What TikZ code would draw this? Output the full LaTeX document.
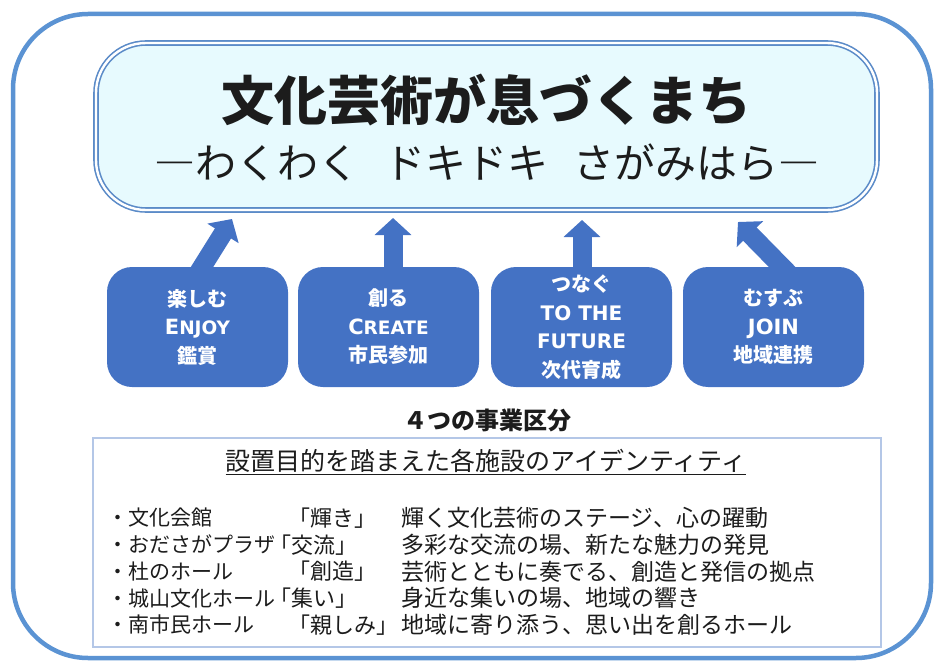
\documentclass[tikz,border=0pt]{standalone}
\usepackage{fontspec}
\setmainfont{Noto Sans CJK JP}
\newfontfamily\latinbold{DejaVu Sans}
\usetikzlibrary{arrows.meta}
\definecolor{frameblue}{HTML}{5B93D3}
\definecolor{boxblue}{HTML}{4472C4}
\definecolor{titlefill}{HTML}{E7FAFE}
\definecolor{tborder}{HTML}{5B8BC8}
\definecolor{lborder}{HTML}{B4C7E7}
\definecolor{ink}{HTML}{1C1C1C}
\tikzset{
  catbox/.style={fill=boxblue, draw=none, rounded corners=25pt, minimum width=181pt,
    minimum height=120pt, text=white, align=center, inner sep=0pt,
    font=\fontsize{20}{28.5}\selectfont\bfseries},
  barrow/.style={boxblue, line width=19pt, -{Triangle[length=17pt,width=36pt]}},
  rowtext/.style={anchor=west, inner sep=0pt, text=ink, font=\fontsize{22}{26}\selectfont},
  nametext/.style={rowtext, font=\fontsize{21}{26}\selectfont},
  desctext/.style={rowtext, font=\fontsize{23}{26}\selectfont},
}
\newcommand{\lat}[1]{{\latinbold\bfseries #1}}
\newcommand{\smc}{\fontsize{18.5}{28.5}\selectfont}
\begin{document}
\begin{tikzpicture}[x=1pt,y=-1pt]
\useasboundingbox (0,0) rectangle (935,661);
% outer frame
\draw[frameblue, line width=4.5pt, rounded corners=75pt] (13,14) rectangle (931,658);
% title box
\node (title) [draw=tborder, double=white, double distance=2.4pt, line width=1.6pt,
  fill=titlefill, rounded corners=50pt, minimum width=781pt, minimum height=167pt]
  at (486.5,126.5) {};
\node (t1) [inner sep=0pt, text=ink, font=\fontsize{53}{60}\selectfont\bfseries] at (486.5,100) {文化芸術が息づくまち};
\node (t2) [inner sep=0pt, text=ink, font=\fontsize{41}{46}\selectfont] at (487,163) {―わくわく\hspace{0.6em}ドキドキ\hspace{0.6em}さがみはら―};
% arrow tips
\coordinate (tip1) at (232,219);
\coordinate (tip2) at (393,218);
\coordinate (tip3) at (582,220);
\coordinate (tip4) at (738,222);
\coordinate (s1) at (197,275);
\coordinate (s2) at (393,275);
\coordinate (s3) at (582,275);
\coordinate (s4) at (790,275);
\draw[barrow] (s1) -- (tip1);
\draw[barrow] (s2) -- (tip2);
\draw[barrow] (s3) -- (tip3);
\draw[barrow] (s4) -- (tip4);
% category boxes
\node (b1) [catbox] at (197.5,327) {楽しむ\\{\lat{\fontsize{21}{28.5}\selectfont E\smc NJOY}}\\鑑賞};
\node (b2) [catbox] at (388.5,327) {創る\\{\lat{\fontsize{21}{28.5}\selectfont C\smc REATE}}\\市民参加};
\node (b3) [catbox] at (581.5,327) {つなぐ\\\lat{TO THE}\\\lat{FUTURE}\\次代育成};
\node (b4) [catbox] at (773.5,327) {むすぶ\\\lat{\fontsize{21}{28.5}\selectfont JOIN}\\地域連携};
% lower section
\node (sec) [inner sep=0pt, text=ink, font=\fontsize{24}{28}\selectfont\bfseries] at (487,420) {４つの事業区分};
\node (list) [draw=lborder, line width=1.5pt, fill=white, minimum width=788pt, minimum height=209pt] at (487,542.5) {};
\node (head) [inner sep=0pt, text=ink, font=\fontsize{25}{28}\selectfont] at (486,462) {\underline{設置目的を踏まえた各施設のアイデンティティ}};
% rows
\node (n1) [nametext] at (107,518) {・文化会館};
\node (n2) [nametext] at (107,544.7) {・おださがプラザ};
\node (n3) [nametext] at (107,571.4) {・杜のホール};
\node (n4) [nametext] at (107,598.1) {・城山文化ホール};
\node (n5) [nametext] at (107,624.8) {・南市民ホール};
\node (k1) [rowtext] at (288,518) {「輝き」};
\node (k2) [rowtext] at (269,544.7) {「交流」};
\node (k3) [rowtext] at (288,571.4) {「創造」};
\node (k4) [rowtext] at (269,598.1) {「集い」};
\node (k5) [rowtext] at (288,624.8) {「親しみ」};
\node (d1) [desctext] at (401,518) {輝く文化芸術のステージ、心の躍動};
\node (d2) [desctext] at (401,544.7) {多彩な交流の場、新たな魅力の発見};
\node (d3) [desctext] at (401,571.4) {芸術とともに奏でる、創造と発信の拠点};
\node (d4) [desctext] at (401,598.1) {身近な集いの場、地域の響き};
\node (d5) [desctext] at (401,624.8) {地域に寄り添う、思い出を創るホール};
\end{tikzpicture}
\end{document}
